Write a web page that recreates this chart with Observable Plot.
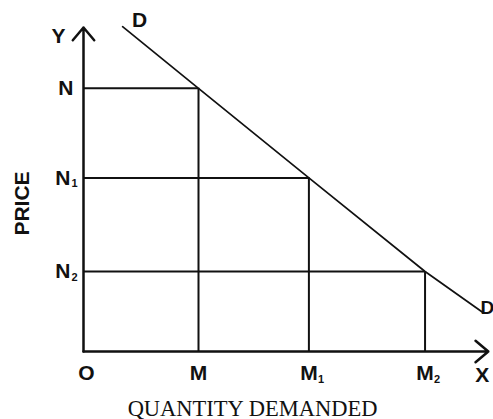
<!DOCTYPE html>
<html>
<head>
<meta charset="utf-8">
<script src="https://cdn.jsdelivr.net/npm/d3@7"></script>
<script src="https://cdn.jsdelivr.net/npm/@observablehq/plot@0.6"></script>
<style>
  html, body { margin: 0; padding: 0; background: #fff; }
  svg { display: block; }
</style>
</head>
<body>
<div id="chart"></div>
<script>
// Quantity points on the X axis (O = origin)
const quantityLabels = ["M", "M", "M"];
const quantitySubs = ["", "1", "2"];
const quantities = [1.0, 1.96, 2.97];
// Price points on the Y axis
const priceLabels = ["N", "N", "N"];
const priceSubs = ["", "1", "2"];
const prices = [3.29, 2.17, 1.0];
// Demand curve D–D
const demandQ = [0.34, 1.0, 1.96, 2.97, 3.47];
const demandP = [4.06, 3.29, 2.17, 1.0, 0.49];
// Axis extents
const xAxisMax = 3.52;
const yAxisMax = 4.05;
const xTitle = "QUANTITY DEMANDED";
const yTitle = "PRICE";

const pts = quantities.map((q, i) => ({
  q, p: prices[i],
  ql: quantityLabels[i], qs: quantitySubs[i],
  pl: priceLabels[i], ps: priceSubs[i]
}));
const ptsPlain = pts.filter(d => !d.ps);
const ptsSub = pts.filter(d => d.ps);
const demand = demandQ.map((q, i) => ({q, p: demandP[i]}));
const dStart = [demand[0]];
const dEnd = [demand[demand.length - 1]];

const sans = "Liberation Sans, Arial, sans-serif";
const serif = "Liberation Serif, Times New Roman, serif";
const lab = {fontFamily: sans, fontWeight: "bold", fontSize: 21, fill: "#111"};
const sub = {fontFamily: sans, fontWeight: "bold", fontSize: 11, fill: "#111", textAnchor: "start"};

const chart = Plot.plot({
  width: 493,
  height: 419,
  marginLeft: 30,
  marginRight: 19,
  marginTop: 20,
  marginBottom: 33,
  x: {domain: [0, xAxisMax], range: [83, 83 + xAxisMax * 115], axis: null},
  y: {domain: [0, yAxisMax], range: [351, 351 - yAxisMax * 80], axis: null},
  marks: [
    // guide lines
    Plot.ruleY(pts, {y: "p", x1: 0, x2: "q", stroke: "#111", strokeWidth: 2}),
    Plot.ruleX(pts, {x: "q", y1: 0, y2: "p", stroke: "#111", strokeWidth: 2}),
    // axes with arrows
    Plot.arrow([{x1: 0, y1: 0, x2: 0, y2: yAxisMax}], {x1: "x1", y1: "y1", x2: "x2", y2: "y2", stroke: "#111", strokeWidth: 2.5, headLength: 10, headAngle: 80}),
    Plot.arrow([{x1: 0, y1: 0, x2: xAxisMax, y2: 0}], {x1: "x1", y1: "y1", x2: "x2", y2: "y2", stroke: "#111", strokeWidth: 2.5, headLength: 10, headAngle: 80}),
    // demand curve
    Plot.line(demand, {x: "q", y: "p", stroke: "#111", strokeWidth: 1.7}),
    // price tick labels
    Plot.text(ptsPlain, {x: 0, y: "p", text: "pl", textAnchor: "end", dx: -10, ...lab}),
    Plot.text(ptsSub, {x: 0, y: "p", text: "pl", textAnchor: "end", dx: -13, ...lab}),
    Plot.text(ptsSub, {x: 0, y: "p", text: "ps", dx: -12, dy: 6, ...sub}),
    // quantity tick labels
    Plot.text(pts, {x: "q", y: 0, text: "ql", dy: 22, ...lab}),
    Plot.text(ptsSub, {x: "q", y: 0, text: "qs", dx: 9, dy: 28, ...sub}),
    Plot.text(["O"], {x: 0, y: 0, text: d => d, dx: 3, dy: 22, ...lab}),
    Plot.text(["X"], {x: xAxisMax, y: 0, text: d => d, dx: -6, dy: 24, ...lab}),
    Plot.text(["Y"], {x: 0, y: yAxisMax, text: d => d, dx: -25, dy: 9, ...lab}),
    Plot.text(dStart, {x: "q", y: "p", text: () => "D", dx: 17, dy: -6, ...lab}),
    Plot.text(dEnd, {x: "q", y: "p", text: () => "D", textAnchor: "start", dx: -2, dy: -4, ...lab, fontSize: 19}),
    // axis titles
    Plot.text([xTitle], {frameAnchor: "bottom", textAnchor: "middle", text: d => d, lineAnchor: "bottom", dy: 29, fontFamily: serif, fontSize: 22.5, fill: "#111"}),
    Plot.text([yTitle], {frameAnchor: "left", textAnchor: "middle", text: d => d, rotate: -90, dx: -8, fontFamily: sans, fontWeight: "bold", fontSize: 21, fill: "#111"})
  ]
});
document.getElementById("chart").appendChild(chart);
</script>
</body>
</html>
